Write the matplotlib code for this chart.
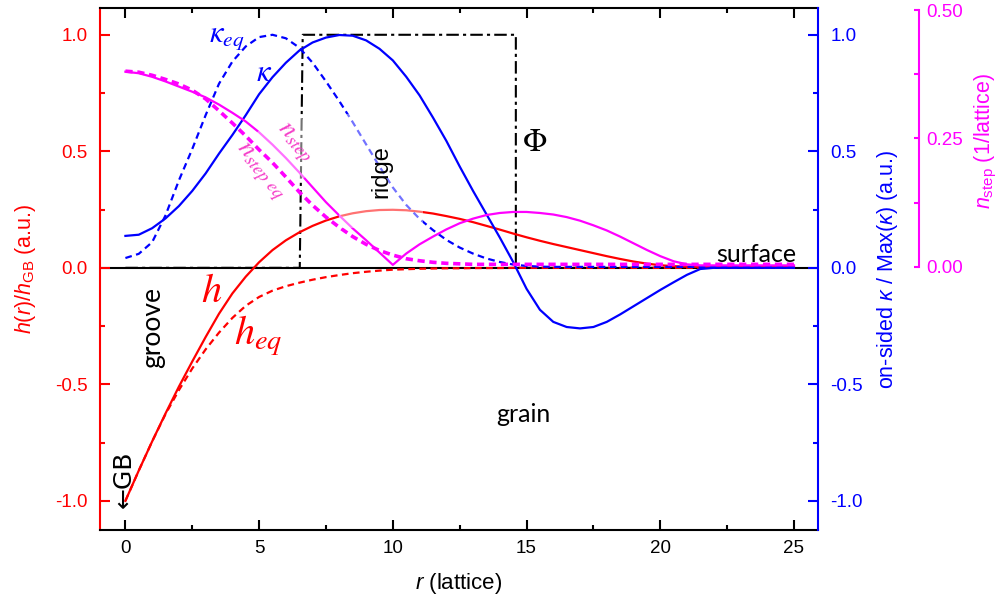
import numpy as np
import matplotlib
matplotlib.use("Agg")
import matplotlib.pyplot as plt
from matplotlib.ticker import MultipleLocator, FixedLocator, FormatStrFormatter

plt.rcParams['font.family'] = ['Liberation Sans', 'DejaVu Sans']
plt.rcParams['mathtext.fontset'] = 'custom'
plt.rcParams['mathtext.rm'] = 'Liberation Sans'
plt.rcParams['mathtext.it'] = 'Liberation Sans:italic'
plt.rcParams['mathtext.bf'] = 'Liberation Sans:bold'
plt.rcParams['axes.unicode_minus'] = False

RED = '#ff0000'
BLUE = '#0000ff'
MAG = '#ff00ff'
LABEL_PINK = '#f53cc8'

# sample positions (lattice units), every 0.5 from 0 to 25
r = np.linspace(0, 25, 51)

# profile h/h_GB and its equilibrium counterpart
h = [-1.0, -0.87, -0.745, -0.625, -0.51, -0.402, -0.297, -0.197, -0.11, -0.038,
     0.024, 0.076, 0.118, 0.152, 0.18, 0.203, 0.221, 0.234, 0.243, 0.248,
     0.249, 0.247, 0.241, 0.233, 0.222, 0.21, 0.196, 0.18, 0.164, 0.147,
     0.131, 0.116, 0.102, 0.089, 0.076, 0.063, 0.05, 0.038, 0.027, 0.018,
     0.011, 0.007, 0.005, 0.004, 0.004, 0.004, 0.004, 0.004, 0.004, 0.004,
     0.004]
h_eq = [-1.0, -0.87, -0.745, -0.628, -0.525, -0.432, -0.35, -0.278, -0.215, -0.163,
        -0.125, -0.098, -0.079, -0.064, -0.051, -0.04, -0.031, -0.023, -0.017, -0.012,
        -0.008, -0.006, -0.004, -0.003, -0.002, -0.002, -0.001, -0.001, -0.001, 0,
        0, 0, 0, 0, 0, 0, 0, 0, 0, 0,
        0, 0, 0, 0, 0, 0, 0, 0, 0, 0,
        0]

# one-sided curvature / max
kappa = [0.137, 0.142, 0.17, 0.212, 0.265, 0.33, 0.405, 0.49, 0.57, 0.655,
         0.745, 0.818, 0.88, 0.932, 0.967, 0.988, 0.999, 0.996, 0.976, 0.94,
         0.89, 0.82, 0.74, 0.645, 0.545, 0.435, 0.33, 0.23, 0.13, 0.025,
         -0.09, -0.18, -0.232, -0.254, -0.26, -0.254, -0.232, -0.2, -0.165, -0.13,
         -0.095, -0.062, -0.03, -0.005, 0.0, 0.0, 0.0, 0.0, 0.0, 0.0,
         0.0]
kappa_eq = [0.042, 0.06, 0.11, 0.225, 0.375, 0.51, 0.655, 0.79, 0.885, 0.95,
            0.99, 1.0, 0.985, 0.945, 0.88, 0.80, 0.715, 0.625, 0.53, 0.435,
            0.345, 0.27, 0.21, 0.162, 0.12, 0.087, 0.061, 0.04, 0.025, 0.014,
            0.008, 0.005, 0.004, 0.004, 0.004, 0.004, 0.004, 0.004, 0.004, 0.004,
            0.004, 0.004, 0.004, 0.004, 0.004, 0.004, 0.004, 0.004, 0.004, 0.004,
            0.004]

# step density (1/lattice)
n_step = [0.380, 0.377, 0.37, 0.361, 0.351, 0.341, 0.33, 0.316, 0.3, 0.283,
          0.262, 0.238, 0.212, 0.184, 0.155, 0.126, 0.1, 0.075, 0.052, 0.028,
          0.004, 0.026, 0.044, 0.059, 0.073, 0.085, 0.094, 0.101, 0.105, 0.107,
          0.107, 0.105, 0.102, 0.097, 0.09, 0.081, 0.071, 0.059, 0.046, 0.033,
          0.021, 0.011, 0.005, 0.003, 0.003, 0.003, 0.003, 0.003, 0.003, 0.003,
          0.003]
n_step_eq = [0.381, 0.379, 0.373, 0.365, 0.356, 0.344, 0.327, 0.304, 0.28, 0.255,
             0.228, 0.203, 0.175, 0.146, 0.12, 0.097, 0.077, 0.059, 0.044, 0.032,
             0.023, 0.016, 0.012, 0.009, 0.007, 0.006, 0.005, 0.005, 0.005, 0.005,
             0.005, 0.005, 0.005, 0.005, 0.005, 0.005, 0.005, 0.005, 0.005, 0.005,
             0.005, 0.005, 0.005, 0.005, 0.005, 0.005, 0.005, 0.005, 0.005, 0.005,
             0.005]

# ridge indicator function
phi_r = [0, 6.52, 6.63, 14.6, 14.6, 25]
phi = [0, 0, 1, 1, 0, 0]

fig = plt.figure(figsize=(10.02, 6), dpi=100)
ax = fig.add_axes([0.0998, 0.1167, 0.7166, 0.87])
ax_k = ax.twinx()
ax_n = ax.twinx()

# left axis: h
ax.axhline(0, color='black', lw=1.5, zorder=1)
ax.plot(phi_r, phi, color='black', lw=1.5, dashes=(6, 2, 1.5, 2))
ax.plot(r, h, color=RED, lw=1.6)
ax.plot(r, h_eq, color=RED, lw=1.6, dashes=(3, 2))

# blue axis: curvature
ax_k.plot(r, kappa, color=BLUE, lw=1.6)
ax_k.plot(r, kappa_eq, color=BLUE, lw=1.6, dashes=(3, 2))

# magenta axis: step density
ax_n.plot(r, n_step, color=MAG, lw=1.6)
ax_n.plot(r, n_step_eq, color=MAG, lw=2.6, dashes=(2, 1.3))

ylim = (-1.125, 1.115)
ax.set_xlim(-0.95, 25.9)
ax.set_ylim(ylim)
ax_k.set_ylim(ylim)
ax_n.set_ylim(-0.512, 0.504)

tick_font = 13.5
ax.xaxis.set_major_locator(MultipleLocator(5))
ax.xaxis.set_minor_locator(MultipleLocator(2.5))
ax.yaxis.set_major_locator(MultipleLocator(0.5))
ax.yaxis.set_minor_locator(MultipleLocator(0.25))
ax.yaxis.set_major_formatter(FormatStrFormatter('%.1f'))
ax.tick_params(axis='x', which='both', direction='in', top=True, width=1.5,
               labelsize=tick_font, pad=7)
ax.tick_params(axis='x', which='major', length=7)
ax.tick_params(axis='x', which='minor', length=3.5)
ax.tick_params(axis='y', which='both', direction='in', right=False, width=1.5,
               color=RED, labelcolor=RED, labelsize=tick_font, pad=9)
ax.tick_params(axis='y', which='major', length=7)
ax.tick_params(axis='y', which='minor', length=3.5)

ax_k.yaxis.set_major_locator(MultipleLocator(0.5))
ax_k.yaxis.set_minor_locator(MultipleLocator(0.25))
ax_k.yaxis.set_major_formatter(FormatStrFormatter('%.1f'))
ax_k.tick_params(axis='y', which='both', direction='in', width=1.5,
                 color=BLUE, labelcolor=BLUE, labelsize=tick_font, pad=9)
ax_k.tick_params(axis='y', which='major', length=7)
ax_k.tick_params(axis='y', which='minor', length=3.5)

ax_n.spines['right'].set_position(('axes', 1.1407))
ax_n.spines['right'].set_bounds(0, 0.5)
ax_n.yaxis.set_major_locator(FixedLocator([0, 0.25, 0.5]))
ax_n.yaxis.set_minor_locator(FixedLocator([0.125, 0.375]))
ax_n.yaxis.set_major_formatter(FormatStrFormatter('%.2f'))
ax_n.tick_params(axis='y', which='both', direction='in', width=1.5, length=3.5,
                 color=MAG, labelcolor=MAG, labelsize=tick_font, pad=5)

for s in ['left', 'top', 'bottom', 'right']:
    ax.spines[s].set_linewidth(1.5)
ax.spines['left'].set_color(RED)
ax.spines['right'].set_visible(False)
for s in ['left', 'top', 'bottom']:
    ax_k.spines[s].set_visible(False)
    ax_n.spines[s].set_visible(False)
ax_k.spines['right'].set_color(BLUE)
ax_k.spines['right'].set_linewidth(1.5)
ax_n.spines['right'].set_color(MAG)
ax_n.spines['right'].set_linewidth(1.5)

# axis labels
ax.set_xlabel(r'$r$ (lattice)', fontsize=16)
ax.xaxis.set_label_coords(0.5, -0.078)
ax.set_ylabel(r'$h(r)/h_{\mathrm{GB}}$ (a.u.)', color=RED, fontsize=15.5)
ax.yaxis.set_label_coords(-0.086, 0.5)
ax_k.set_ylabel(r'on-sided $\kappa$ / Max($\kappa$) (a.u.)', color=BLUE, fontsize=15.5)
ax_k.yaxis.set_label_coords(1.079, 0.5)
ax_n.set_ylabel(r'$n_{\mathrm{step}}$ (1/lattice)', color=MAG, fontsize=15.5)
ax_n.yaxis.set_label_coords(1.216, 0.745)

# annotations, drawn on the top axes in left-axis data units
tr = ax.transData
ax_n.text(3.8, 0.99, r'$\kappa_{eq}$', transform=tr, color=BLUE, fontsize=22,
          math_fontfamily='stix', ha='center', va='center')
ax_n.text(5.18, 0.835, r'$\kappa$', transform=tr, color=BLUE, fontsize=22,
          math_fontfamily='stix', ha='center', va='center')
ax_n.text(6.3, 0.535, r'$n_{step}$', transform=tr, color=LABEL_PINK, fontsize=19,
          math_fontfamily='stix', ha='center', va='center', rotation=-48,
          bbox=dict(boxstyle='square,pad=0.4', fc='white', ec='none', alpha=0.45))
ax_n.text(5.03, 0.41, r'$n_{step\ eq}$', transform=tr, color=LABEL_PINK, fontsize=19,
          math_fontfamily='stix', ha='center', va='center', rotation=-50)
ax_n.text(9.56, 0.414, 'ridge', transform=tr, color='black', fontsize=17,
          ha='center', va='center', rotation=90,
          bbox=dict(boxstyle='square,pad=1.3', fc='white', ec='none', alpha=0.45))
ax_n.text(15.32, 0.536, r'$\Phi$', transform=tr, color='black', fontsize=23,
          math_fontfamily='stix', ha='center', va='center')
ax_n.text(23.6, 0.056, 'surface', transform=tr, color='black', fontsize=18,
          family=['Lato', 'DejaVu Sans'], ha='center', va='center')
ax_n.text(1.0, -0.258, 'groove', transform=tr, color='black', fontsize=19,
          family=['Lato', 'DejaVu Sans'], ha='center', va='center', rotation=90)
ax_n.text(3.23, -0.10, r'$h$', transform=tr, color=RED, fontsize=29,
          math_fontfamily='stix', ha='center', va='center')
ax_n.text(4.95, -0.29, r'$h_{eq}$', transform=tr, color=RED, fontsize=29,
          math_fontfamily='stix', ha='center', va='center')
ax_n.text(14.89, -0.63, 'grain', transform=tr, color='black', fontsize=18,
          family=['Lato', 'DejaVu Sans'], ha='center', va='center')
ax_n.text(-0.06, -0.906, '\u2190GB', transform=tr, color='black', fontsize=18,
          family=['DejaVu Sans'], ha='center', va='center', rotation=90)

fig.savefig('out.png', dpi=100)
